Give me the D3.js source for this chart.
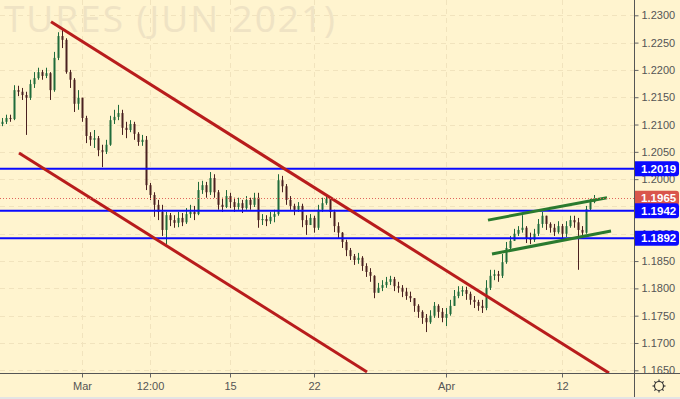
<!DOCTYPE html>
<html>
<head>
<meta charset="utf-8">
<script src="https://d3js.org/d3.v7.min.js"></script>
<style>
    body { margin: 0; background: #fff4cf; }
    svg text { font-family: 'Liberation Sans', Arial, sans-serif; }
    .tick-label { font-size: 11px; fill: #555; }
    .watermark { font-family: 'Open Sans', sans-serif !important; font-size: 37px; font-weight: 400; fill: #efe3c4; }
    .price-box text { font-size: 11.5px; font-weight: bold; fill: #fff; }
</style>
</head>
<body>
<div id="chart"></div>
<script>
// candles, one per slot, open = previous close
var FIRST_OPEN = 1.2101;
var CLOSES = [
    1.2105, 1.2112, 1.2110, 1.2163, 1.2160, 1.2154, 1.2149, 1.2174, 1.2185, 1.2196,
    1.2189, 1.2194, 1.2163, 1.2222, 1.2262, 1.2255, 1.2196, 1.2182, 1.2138, 1.2149,
    1.2112, 1.2079, 1.2072, 1.2075, 1.2053, 1.2050, 1.2063, 1.2108, 1.2114, 1.2121,
    1.2094, 1.2090, 1.2101, 1.2083, 1.2068, 1.2072, 1.1989, 1.1971, 1.1953, 1.1940,
    1.1907, 1.1934, 1.1925, 1.1920, 1.1929, 1.1921, 1.1936, 1.1940, 1.1936, 1.1980,
    1.1989, 1.1976, 1.2002, 1.1976, 1.1953, 1.1949, 1.1969, 1.1958, 1.1949, 1.1956,
    1.1947, 1.1962, 1.1953, 1.1966, 1.1925, 1.1927, 1.1923, 1.1931, 1.1936, 1.1998,
    1.1987, 1.1962, 1.1951, 1.1944, 1.1951, 1.1925, 1.1916, 1.1929, 1.1911, 1.1944,
    1.1956, 1.1964, 1.1940, 1.1914, 1.1902, 1.1885, 1.1870, 1.1859, 1.1852, 1.1856,
    1.1841, 1.1830, 1.1823, 1.1792, 1.1801, 1.1806, 1.1812, 1.1817, 1.1804, 1.1801,
    1.1794, 1.1786, 1.1782, 1.1768, 1.1757, 1.1746, 1.1738, 1.1750, 1.1768, 1.1757,
    1.1746, 1.1753, 1.1768, 1.1786, 1.1794, 1.1797, 1.1790, 1.1779, 1.1775, 1.1768,
    1.1764, 1.1801, 1.1823, 1.1826, 1.1823, 1.1848, 1.1874, 1.1887, 1.1900, 1.1907,
    1.1911, 1.1892, 1.1889, 1.1900, 1.1918, 1.1933, 1.1918, 1.1911, 1.1903, 1.1914,
    1.1900, 1.1914, 1.1925, 1.1921, 1.1907, 1.1902, 1.1945, 1.1958, 1.1965
];
var HIGHS = [
    1.2112, 1.2118, 1.2118, 1.2172, 1.2171, 1.2167, 1.2160, 1.2182, 1.2196, 1.2204,
    1.2200, 1.2204, 1.2196, 1.2233, 1.2269, 1.2273, 1.2258, 1.2200, 1.2185, 1.2163,
    1.2149, 1.2116, 1.2086, 1.2090, 1.2079, 1.2063, 1.2072, 1.2116, 1.2127, 1.2136,
    1.2127, 1.2105, 1.2108, 1.2105, 1.2086, 1.2081, 1.2079, 1.1993, 1.1976, 1.1962,
    1.1953, 1.1940, 1.1938, 1.1934, 1.1940, 1.1938, 1.1947, 1.1953, 1.1951, 1.1995,
    1.1997, 1.1995, 1.2013, 1.2009, 1.1980, 1.1966, 1.1980, 1.1975, 1.1966, 1.1966,
    1.1962, 1.1969, 1.1966, 1.1975, 1.1975, 1.1936, 1.1934, 1.1940, 1.1944, 1.2009,
    1.2006, 1.1991, 1.1969, 1.1955, 1.1958, 1.1955, 1.1934, 1.1936, 1.1933, 1.1953,
    1.1966, 1.1971, 1.1966, 1.1944, 1.1921, 1.1903, 1.1889, 1.1874, 1.1863, 1.1865,
    1.1859, 1.1846, 1.1837, 1.1824, 1.1810, 1.1815, 1.1821, 1.1823, 1.1821, 1.1812,
    1.1806, 1.1801, 1.1794, 1.1782, 1.1771, 1.1760, 1.1753, 1.1760, 1.1775, 1.1771,
    1.1764, 1.1764, 1.1779, 1.1797, 1.1804, 1.1804, 1.1803, 1.1794, 1.1786, 1.1779,
    1.1779, 1.1815, 1.1834, 1.1834, 1.1832, 1.1863, 1.1885, 1.1896, 1.1909, 1.1914,
    1.1934, 1.1914, 1.1902, 1.1909, 1.1927, 1.1940, 1.1933, 1.1921, 1.1918, 1.1923,
    1.1918, 1.1923, 1.1933, 1.1933, 1.1929, 1.1914, 1.1951, 1.1964, 1.1971
];
var LOWS = [
    1.2097, 1.2101, 1.2105, 1.2108, 1.2152, 1.2145, 1.2081, 1.2145, 1.2167, 1.2182,
    1.2182, 1.2185, 1.2145, 1.2160, 1.2218, 1.2240, 1.2193, 1.2167, 1.2123, 1.2127,
    1.2105, 1.2066, 1.2061, 1.2057, 1.2042, 1.2022, 1.2046, 1.2061, 1.2101, 1.2108,
    1.2081, 1.2075, 1.2086, 1.2072, 1.2061, 1.2061, 1.1980, 1.1962, 1.1931, 1.1925,
    1.1896, 1.1881, 1.1914, 1.1911, 1.1912, 1.1914, 1.1918, 1.1929, 1.1925, 1.1934,
    1.1973, 1.1966, 1.1971, 1.1966, 1.1944, 1.1940, 1.1947, 1.1947, 1.1940, 1.1944,
    1.1938, 1.1944, 1.1944, 1.1949, 1.1911, 1.1916, 1.1914, 1.1918, 1.1921, 1.1933,
    1.1976, 1.1953, 1.1944, 1.1934, 1.1940, 1.1912, 1.1898, 1.1918, 1.1902, 1.1907,
    1.1940, 1.1953, 1.1929, 1.1903, 1.1892, 1.1874, 1.1859, 1.1852, 1.1843, 1.1845,
    1.1832, 1.1821, 1.1812, 1.1782, 1.1792, 1.1795, 1.1801, 1.1806, 1.1795, 1.1792,
    1.1784, 1.1779, 1.1775, 1.1757, 1.1746, 1.1735, 1.1720, 1.1735, 1.1746, 1.1746,
    1.1738, 1.1731, 1.1750, 1.1768, 1.1782, 1.1786, 1.1779, 1.1770, 1.1764, 1.1759,
    1.1755, 1.1760, 1.1797, 1.1815, 1.1812, 1.1819, 1.1845, 1.1870, 1.1889, 1.1896,
    1.1902, 1.1883, 1.1881, 1.1885, 1.1896, 1.1911, 1.1907, 1.1902, 1.1896, 1.1900,
    1.1892, 1.1894, 1.1911, 1.1911, 1.1834, 1.1894, 1.1900, 1.1942, 1.1956
];

var PRICE_TICKS = [1.2300, 1.2250, 1.2200, 1.2150, 1.2100, 1.2050, 1.2000, 1.1950,
                   1.1900, 1.1850, 1.1800, 1.1750, 1.1700, 1.1650];
var TIME_TICK_LABELS = ['Mar', '12:00', '15', '22', 'Apr', '12'];
var TIME_TICK_SLOTS = [20, 37, 57, 78, 111, 140];

var LEVELS = [1.2019, 1.1942, 1.1892];
var LAST_PRICE = 1.1965;
// trend lines: [[slot, price], [slot, price]]
var RED_LINES = [
    [[12.25, 1.2288], [151.75, 1.1645]],
    [[4.25, 1.2048], [91.25, 1.1647]]
];
var GREEN_LINES = [
    [[121.5, 1.1925], [151.25, 1.1966]],
    [[122.5, 1.1863], [152.25, 1.1905]]
];
var WATERMARK = 'TURES (JUN 2021)';

var WIDTH = 680;
var HEIGHT = 399;
var PLOT_RIGHT = 634;
var PLOT_BOTTOM = 373;

var candles = CLOSES.map(function(c, i) {
    return { i: i, o: i === 0 ? FIRST_OPEN : CLOSES[i - 1], h: HIGHS[i], l: LOWS[i], c: c };
});

var x = d3.scaleLinear().domain([0, 158]).range([2, PLOT_RIGHT]);
var y = d3.scaleLinear().domain([1.1650, 1.2300]).range([370.3, 15.3]);

var svg = d3.select('#chart').append('svg')
    .attr('width', WIDTH)
    .attr('height', HEIGHT)
    .style('display', 'block');

svg.append('rect').attr('width', WIDTH).attr('height', HEIGHT).attr('fill', '#fff4cf');
svg.append('rect').attr('y', HEIGHT - 2).attr('width', WIDTH).attr('height', 2).attr('fill', '#e4e4e4');

svg.append('clipPath').attr('id', 'plot-clip')
    .append('rect').attr('width', PLOT_RIGHT).attr('height', PLOT_BOTTOM);

var plot = svg.append('g').attr('clip-path', 'url(#plot-clip)');

// grid
plot.selectAll('line.hgrid')
    .data(PRICE_TICKS)
    .enter().append('line')
    .attr('class', 'hgrid')
    .attr('x1', 0).attr('x2', PLOT_RIGHT)
    .attr('y1', function(d) { return Math.round(y(d)) + 0.5; })
    .attr('y2', function(d) { return Math.round(y(d)) + 0.5; })
    .attr('stroke', '#f1e3bd')
    .attr('stroke-dasharray', '5,4');

plot.selectAll('line.vgrid')
    .data(TIME_TICK_SLOTS)
    .enter().append('line')
    .attr('class', 'vgrid')
    .attr('x1', function(d) { return Math.round(x(d)) + 0.5; })
    .attr('x2', function(d) { return Math.round(x(d)) + 0.5; })
    .attr('y1', 0).attr('y2', PLOT_BOTTOM)
    .attr('stroke', '#f1e3bd')
    .attr('stroke-dasharray', '5,4');

plot.append('text')
    .attr('class', 'watermark')
    .attr('x', 4)
    .attr('y', 32)
    .attr('textLength', 331)
    .attr('lengthAdjust', 'spacing')
    .text(WATERMARK);

// candles
var UP = '#1f6b3b', DOWN = '#4a2020';
var candle = plot.selectAll('g.candle')
    .data(candles)
    .enter().append('g')
    .attr('class', 'candle');

candle.append('line')
    .attr('x1', function(d) { return Math.round(x(d.i)) + 0.5; })
    .attr('x2', function(d) { return Math.round(x(d.i)) + 0.5; })
    .attr('y1', function(d) { return y(Math.max(d.h, d.o, d.c)); })
    .attr('y2', function(d) { return y(Math.min(d.l, d.o, d.c)); })
    .attr('stroke', function(d) { return d.c >= d.o ? UP : DOWN; })
    .attr('stroke-width', 1);

candle.append('rect')
    .attr('x', function(d) { return Math.round(x(d.i)) - 0.5; })
    .attr('width', 2)
    .attr('y', function(d) { return y(Math.max(d.o, d.c)); })
    .attr('height', function(d) { return Math.max(1, Math.abs(y(d.o) - y(d.c))); })
    .attr('fill', function(d) { return d.c >= d.o ? UP : DOWN; });

// horizontal levels
plot.selectAll('line.level')
    .data(LEVELS)
    .enter().append('line')
    .attr('class', 'level')
    .attr('x1', 0).attr('x2', PLOT_RIGHT)
    .attr('y1', function(d) { return y(d); })
    .attr('y2', function(d) { return y(d); })
    .attr('stroke', '#0a0aff')
    .attr('stroke-width', 2);

// trend lines
var line = d3.line()
    .x(function(p) { return x(p[0]); })
    .y(function(p) { return y(p[1]); });

plot.selectAll('path.red')
    .data(RED_LINES)
    .enter().append('path')
    .attr('d', line)
    .attr('fill', 'none')
    .attr('stroke', '#b81c1c')
    .attr('stroke-width', 3);

plot.selectAll('path.green')
    .data(GREEN_LINES)
    .enter().append('path')
    .attr('d', line)
    .attr('fill', 'none')
    .attr('stroke', '#2a7a2e')
    .attr('stroke-width', 3);

// last price dotted line
plot.append('line')
    .attr('x1', 0).attr('x2', PLOT_RIGHT)
    .attr('y1', Math.round(y(LAST_PRICE)) + 0.5)
    .attr('y2', Math.round(y(LAST_PRICE)) + 0.5)
    .attr('stroke', '#e0645c')
    .attr('stroke-dasharray', '1,2');

// price axis
var yAxis = d3.axisRight(y)
    .tickValues(PRICE_TICKS)
    .tickSize(4)
    .tickPadding(3)
    .tickFormat(d3.format('.4f'));

var yAxisG = svg.append('g')
    .attr('transform', 'translate(' + (PLOT_RIGHT + 0.5) + ',0)')
    .call(yAxis);
yAxisG.select('.domain').remove();
yAxisG.selectAll('line').attr('stroke', '#666');
yAxisG.selectAll('text').attr('class', 'tick-label').attr('font-size', null).attr('fill', null);

// time axis
var xAxis = d3.axisBottom(x)
    .tickValues(TIME_TICK_SLOTS)
    .tickSize(4)
    .tickPadding(5)
    .tickFormat(function(d, i) { return TIME_TICK_LABELS[i]; });

var xAxisG = svg.append('g')
    .attr('transform', 'translate(0,' + (PLOT_BOTTOM + 0.5) + ')')
    .call(xAxis);
xAxisG.select('.domain').remove();
xAxisG.selectAll('line').attr('stroke', '#666');
xAxisG.selectAll('text').attr('class', 'tick-label').attr('font-size', null).attr('fill', null);

svg.append('line')
    .attr('x1', PLOT_RIGHT + 0.5).attr('x2', PLOT_RIGHT + 0.5)
    .attr('y1', 0).attr('y2', HEIGHT - 2)
    .attr('stroke', '#555');
svg.append('line')
    .attr('x1', 0).attr('x2', WIDTH)
    .attr('y1', PLOT_BOTTOM + 0.5).attr('y2', PLOT_BOTTOM + 0.5)
    .attr('stroke', '#555');

// price labels
var boxes = LEVELS.map(function(d) { return { price: d, color: '#0a0aff' }; });
boxes.unshift({ price: LAST_PRICE, color: '#d9554c' });

var box = svg.selectAll('g.price-box')
    .data(boxes)
    .enter().append('g')
    .attr('class', 'price-box')
    .attr('transform', function(d) { return 'translate(' + (PLOT_RIGHT + 1) + ',' + y(d.price) + ')'; });

box.append('path')
    .attr('d', 'M0,-7.5 H41 Q44,-7.5 44,-4.5 V4.5 Q44,7.5 41,7.5 H0 Z')
    .attr('fill', function(d) { return d.color; });

box.append('text')
    .attr('x', 6)
    .attr('dy', '0.36em')
    .text(function(d) { return d3.format('.4f')(d.price); });

// settings icon
var gear = svg.append('g').attr('transform', 'translate(659,386)');
gear.append('circle').attr('r', 4.5).attr('fill', 'none').attr('stroke', '#333').attr('stroke-width', 1.2);
gear.selectAll('line')
    .data(d3.range(8))
    .enter().append('line')
    .attr('x1', function(d) { return 4.5 * Math.cos(d * Math.PI / 4); })
    .attr('y1', function(d) { return 4.5 * Math.sin(d * Math.PI / 4); })
    .attr('x2', function(d) { return 6.5 * Math.cos(d * Math.PI / 4); })
    .attr('y2', function(d) { return 6.5 * Math.sin(d * Math.PI / 4); })
    .attr('stroke', '#333')
    .attr('stroke-width', 1.2);
</script>
</body>
</html>
